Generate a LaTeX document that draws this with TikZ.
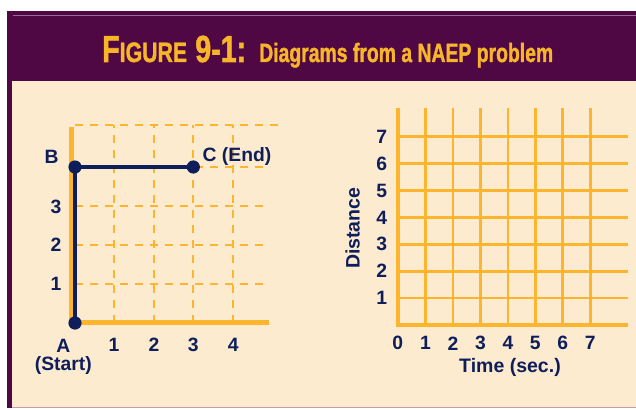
\documentclass[tikz,border=0pt]{standalone}
\usepackage{fontspec}
\setmainfont{Liberation Sans}
\newfontfamily\titlefont[FakeBold=1.6]{Liberation Sans Bold}
\usepackage{graphicx}
\definecolor{plum}{HTML}{4F0843}
\definecolor{cream}{HTML}{FDEBCF}
\definecolor{gold}{HTML}{FDB52D}
\definecolor{navy}{HTML}{0E1E5B}
\definecolor{titlegold}{HTML}{F7B52A}
\definecolor{rulecol}{HTML}{9A6A96}
\definecolor{edgecol}{HTML}{C99AAE}
\begin{document}
\begin{tikzpicture}[x=1pt,y=-1pt,
  lbl/.style={text=navy,font=\fontsize{19.3}{17}\selectfont\bfseries,inner sep=0pt},
  axistitle/.style={text=navy,font=\fontsize{19.5}{21}\selectfont\bfseries,inner sep=0pt},
  dashgrid/.style={gold,line width=2pt,dash pattern=on 8pt off 7pt},
  solidgrid/.style={gold,line width=2.7pt},
  axisline/.style={gold,line width=4.5pt},
  pathline/.style={navy,line width=4pt},
  dot/.style={navy}]
\useasboundingbox (0,0) rectangle (636,409);
\fill[white] (0,0) rectangle (636,409);
% frame
\fill[plum] (7,11) rectangle (636,408);
\fill[cream] (12,81) rectangle (636,407);
\draw[rulecol,line width=1pt] (13,16) -- (636,16);
\draw[edgecol,line width=1pt] (12,407.5) -- (636,407.5);
% title
\node[anchor=base west,inner sep=0pt,text=titlegold] (figno) at (102,62)
  {\resizebox{144pt}{\height}{\titlefont\fontsize{37.7}{40}\selectfont F\fontsize{28}{30}\selectfont IGURE\hspace{3pt} \fontsize{37.7}{40}\selectfont 9-1:}};
\node[anchor=base west,inner sep=0pt,text=titlegold] (caption) at (259,62)
  {\resizebox{294pt}{\height}{\titlefont\fontsize{26.5}{28}\selectfont Diagrams from a NAEP problem}};
% ---------- left diagram ----------
\foreach \x in {114,154,193.3,233.3}
  \draw[dashgrid] (\x,323) -- (\x,125.3);
\foreach \y in {284,244.7,205.7}
  \draw[dashgrid] (75,\y) -- (266,\y);
\draw[dashgrid] (75,166.7) -- (270,166.7);
\draw[dashgrid] (75,125.3) -- (283,125.3);
\draw[axisline] (71.7,126.7) -- (71.7,322.7) -- (269,322.7);
\coordinate (A) at (75,323);
\coordinate (B) at (75,167);
\coordinate (C) at (193.3,167);
\draw[pathline] (A) -- (B) -- (C);
\foreach \p in {A,B,C} \fill[dot] (\p) circle (6.6pt);
\node[lbl] (lB) at (51.7,156.7) {B};
\node[lbl,anchor=west] (lC) at (202.5,156.7) {C (End)};
\node[lbl] (l3) at (56,207) {3};
\node[lbl] (l2) at (56,245) {2};
\node[lbl] (l1) at (56,284) {1};
\node[lbl,text height=13.8pt,text depth=0pt] (lA) at (63.3,345.6) {A};
\node[lbl,text height=13.5pt,text depth=4pt] (lStart) at (63.3,365.5) {(Start)};
\node[lbl] (x1) at (114,345) {1};
\node[lbl] (x2) at (154,345) {2};
\node[lbl] (x3) at (193.3,345) {3};
\node[lbl] (x4) at (233.3,345) {4};
% ---------- right diagram ----------
\foreach \k in {1,...,7} {
  \draw[solidgrid] ({398+27.47*\k},108) -- ({398+27.47*\k},325);
  \draw[solidgrid] (398,{325-26.9*\k}) -- (627.7,{325-26.9*\k});
}
\draw[axisline] (398,108) -- (398,325) -- (627.7,325);
\foreach \k in {1,...,7}
  \node[lbl] (dy\k) at (381.7,{325-26.9*\k}) {\k};
\node[lbl] (t0) at (397.7,343.3) {0};
\foreach \k in {1,...,7}
  \node[lbl] (t\k) at ({398+27.47*\k},343.3) {\k};
\node[axistitle,rotate=90] (dist) at (352.7,228.3) {Distance};
\node[axistitle] (time) at (510,367.3) {Time (sec.)};
\end{tikzpicture}
\end{document}
